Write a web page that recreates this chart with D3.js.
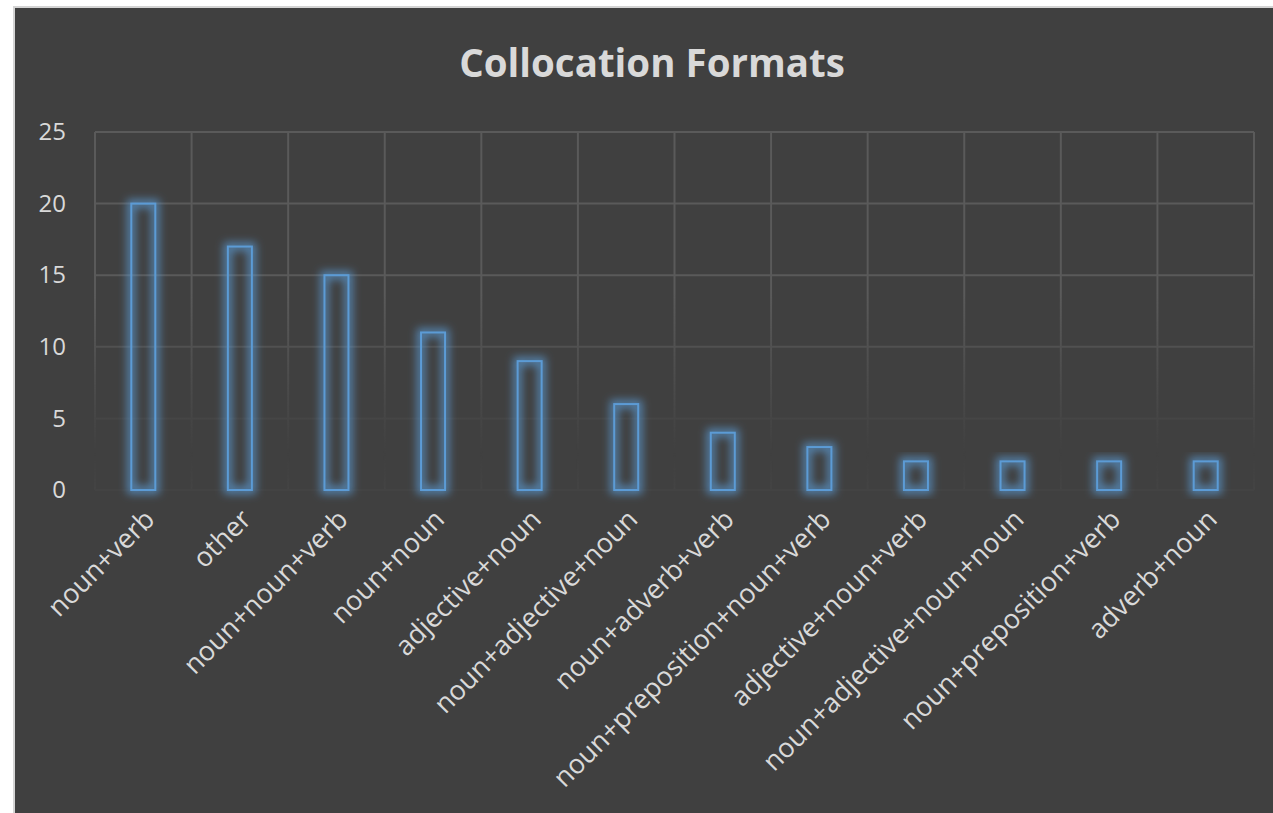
<!DOCTYPE html>
<html>
<head>
<meta charset="utf-8">
<script src="https://cdn.jsdelivr.net/npm/d3@7"></script>
<style>
  body { margin: 0; background: #fff; }
  svg { display: block; }
</style>
</head>
<body>
<svg id="chart"></svg>
<script>
// chart data
var categories = ["noun+verb", "other", "noun+noun+verb", "noun+noun", "adjective+noun",
    "noun+adjective+noun", "noun+adverb+verb", "noun+preposition+noun+verb",
    "adjective+noun+verb", "noun+adjective+noun+noun", "noun+preposition+verb", "adverb+noun"]
var counts = [20, 17, 15, 11, 9, 6, 4, 3, 2, 2, 2, 2]
var yTicks = [0, 5, 10, 15, 20, 25]
var title = "Collocation Formats"

var dd = {
    width: 1273,
    height: 813,
    plot: { left: 95, right: 1254, top: 132, bottom: 490 }
}

var svg = d3.select("#chart")
    .attr("width", dd.width)
    .attr("height", dd.height)

var defs = svg.append("defs")

// glow round the bar outlines
var glow = defs.append("filter").attr("id", "glow")
    .attr("x", "-80%").attr("y", "-30%").attr("width", "260%").attr("height", "160%")
glow.append("feMorphology").attr("in", "SourceGraphic").attr("operator", "dilate").attr("radius", 3).attr("result", "thick")
glow.append("feGaussianBlur").attr("in", "thick").attr("stdDeviation", 4.5).attr("result", "blur")
glow.append("feComponentTransfer").attr("in", "blur").attr("result", "soft")
    .append("feFuncA").attr("type", "linear").attr("slope", 0.75)
var merge = glow.append("feMerge")
merge.append("feMergeNode").attr("in", "soft")
merge.append("feMergeNode").attr("in", "SourceGraphic")

// gridlines fade out towards the bottom
var fade = defs.append("linearGradient").attr("id", "fade")
    .attr("gradientUnits", "userSpaceOnUse")
    .attr("x1", 0).attr("x2", 0).attr("y1", dd.plot.top).attr("y2", dd.plot.bottom)
fade.append("stop").attr("offset", "0%").attr("stop-color", "#fff").attr("stop-opacity", 1)
fade.append("stop").attr("offset", "45%").attr("stop-color", "#fff").attr("stop-opacity", 1)
fade.append("stop").attr("offset", "90%").attr("stop-color", "#fff").attr("stop-opacity", 0)
fade.append("stop").attr("offset", "100%").attr("stop-color", "#fff").attr("stop-opacity", 0.15)
defs.append("mask").attr("id", "gridMask")
    .append("rect").attr("x", 0).attr("y", 0).attr("width", dd.width).attr("height", dd.height)
    .attr("fill", "url(#fade)")

// background panel
svg.append("rect")
    .attr("x", 14).attr("y", 7)
    .attr("width", dd.width).attr("height", dd.height)
    .attr("fill", "#404040")
    .attr("stroke", "#d4d4d4").attr("stroke-width", 2)

var xScale = d3.scaleBand().domain(categories).range([dd.plot.left, dd.plot.right])
var yScale = d3.scaleLinear().domain([0, 25]).range([dd.plot.bottom, dd.plot.top])

// grid
var grid = svg.append("g").attr("mask", "url(#gridMask)")
grid.selectAll(".hline")
    .data(yTicks)
    .enter().append("line")
    .attr("class", "hline")
    .attr("x1", dd.plot.left).attr("x2", dd.plot.right)
    .attr("y1", function(d) { return yScale(d); })
    .attr("y2", function(d) { return yScale(d); })
    .attr("stroke", "#5a5a5a").attr("stroke-width", 2)

var vpos = categories.map(function(c) { return xScale(c); }).concat([dd.plot.right])
grid.selectAll(".vline")
    .data(vpos)
    .enter().append("line")
    .attr("class", "vline")
    .attr("x1", function(d) { return d; }).attr("x2", function(d) { return d; })
    .attr("y1", dd.plot.top).attr("y2", dd.plot.bottom)
    .attr("stroke", "#5a5a5a").attr("stroke-width", 2)

// y axis
var yAxisGen = d3.axisLeft(yScale).tickValues(yTicks).tickSize(0).tickPadding(0)
var yAxis = svg.append("g")
    .attr("transform", "translate(" + 66 + ",0)")
    .call(yAxisGen)
yAxis.select(".domain").remove()
yAxis.selectAll("text")
    .attr("font-family", "'Open Sans', sans-serif")
    .attr("font-size", 24)
    .attr("fill", "#d9d9d9")
    .attr("text-anchor", "end")

// x axis
var xAxisGen = d3.axisBottom(xScale).tickSize(0).tickPadding(0)
var xAxis = svg.append("g")
    .attr("transform", "translate(0," + dd.plot.bottom + ")")
    .call(xAxisGen)
xAxis.select(".domain").remove()
xAxis.selectAll("text")
    .attr("font-family", "'Open Sans', sans-serif")
    .attr("font-size", 27)
    .attr("fill", "#d9d9d9")
    .style("text-anchor", "end")
    .attr("dx", 0)
    .attr("dy", 0)
    .attr("transform", "translate(13,31) rotate(-45)")

// bars
var barW = 24
svg.append("g").selectAll(".bar")
    .data(counts)
    .enter().append("rect")
    .attr("class", "bar")
    .attr("x", function(d, i) { return xScale(categories[i]) + xScale.bandwidth() / 2 - barW / 2; })
    .attr("y", function(d) { return yScale(d); })
    .attr("width", barW)
    .attr("height", function(d) { return dd.plot.bottom - yScale(d); })
    .attr("fill", "none")
    .attr("stroke", "#5b9bd5")
    .attr("stroke-width", 2)
    .attr("filter", "url(#glow)")

// title
svg.append("text")
    .attr("x", 652)
    .attr("y", 77)
    .attr("text-anchor", "middle")
    .attr("font-family", "'Open Sans', sans-serif")
    .attr("font-weight", "bold")
    .attr("font-size", 38.5)
    .attr("fill", "#d9d9d9")
    .text(title)
</script>
</body>
</html>
